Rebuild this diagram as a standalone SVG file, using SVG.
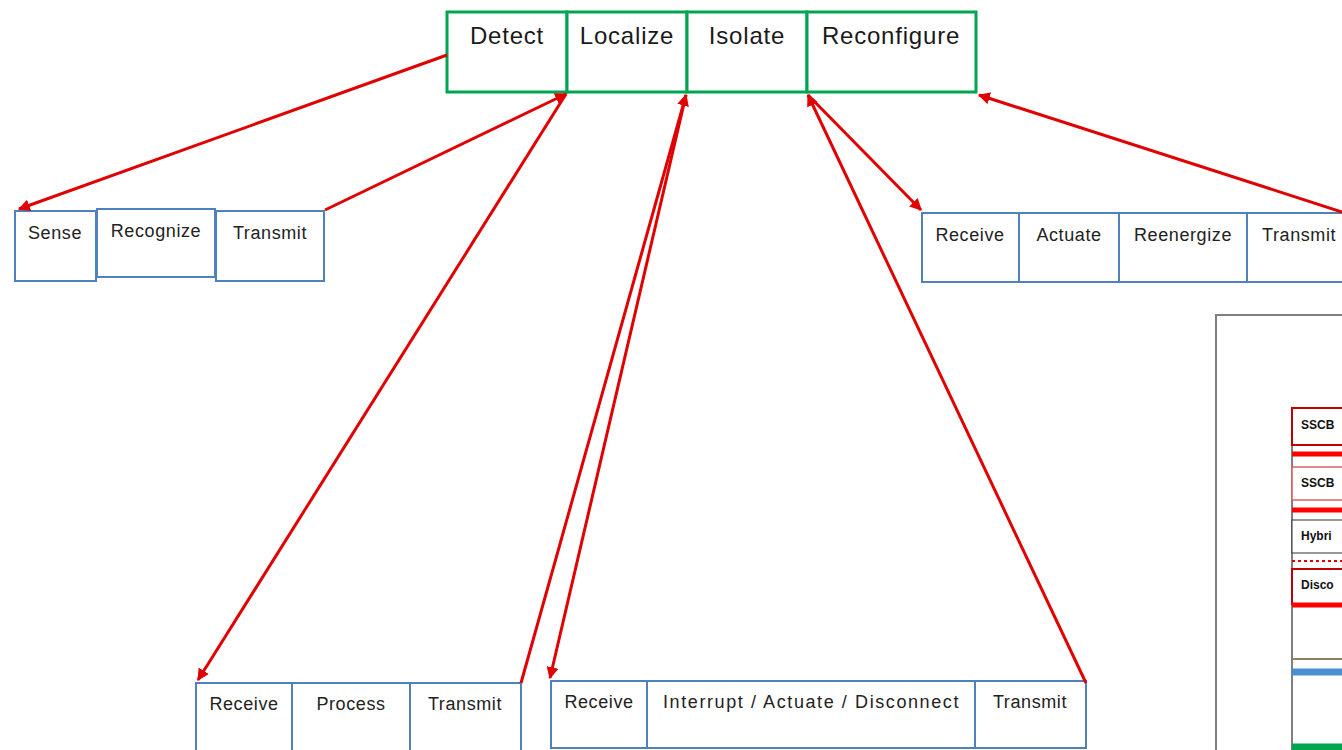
<svg xmlns="http://www.w3.org/2000/svg" width="1342" height="750" viewBox="0 0 1342 750">
<style>
.top{fill:#fff;stroke:#00a550;stroke-width:3}
.cell{fill:#fff;stroke:#4f81bd;stroke-width:2}
.tt{font-family:"Liberation Sans",Arial,sans-serif;font-size:24px;letter-spacing:0.8px;fill:#1a1a1a;text-anchor:middle}
.ct{font-family:"Liberation Sans",Arial,sans-serif;font-size:18px;letter-spacing:0.6px;fill:#222;text-anchor:middle}
.lt{font-family:"Liberation Sans",Arial,sans-serif;font-size:12px;font-weight:bold;fill:#111}
.conn{stroke:#e00000;stroke-width:3;fill:none;marker-end:url(#ah)}
</style>
<defs>
<marker id="ah" viewBox="0 0 10 10" refX="9" refY="5" markerWidth="4" markerHeight="4" orient="auto" markerUnits="strokeWidth">
<path d="M0,0 L10,5 L0,10 z" fill="#e00000"/>
</marker>
</defs>
<rect width="1342" height="750" fill="#fff"/>

<g id="top-row">
<g id="detect"><rect class="top" x="447" y="12" width="120" height="80"/><text class="tt" x="507" y="44">Detect</text></g>
<g id="localize"><rect class="top" x="567" y="12" width="120" height="80"/><text class="tt" x="627" y="44">Localize</text></g>
<g id="isolate"><rect class="top" x="687" y="12" width="120" height="80"/><text class="tt" x="747" y="44">Isolate</text></g>
<g id="reconfigure"><rect class="top" x="807" y="12" width="169" height="80"/><text class="tt" x="891" y="44">Reconfigure</text></g>
</g>

<g id="detect-steps">
<g id="sense"><rect class="cell" x="15" y="211" width="81" height="70"/><text class="ct" x="55" y="239">Sense</text></g>
<g id="recognize"><rect class="cell" x="97" y="209" width="118" height="68"/><text class="ct" x="156" y="237">Recognize</text></g>
<g id="transmit1"><rect class="cell" x="216" y="211" width="108" height="70"/><text class="ct" x="270" y="239">Transmit</text></g>
</g>

<g id="reconfigure-steps">
<g id="receive4"><rect class="cell" x="922" y="213" width="97" height="69"/><text class="ct" x="970" y="241">Receive</text></g>
<g id="actuate"><rect class="cell" x="1019" y="213" width="100" height="69"/><text class="ct" x="1069" y="241">Actuate</text></g>
<g id="reenergize"><rect class="cell" x="1119" y="213" width="128" height="69"/><text class="ct" x="1183" y="241">Reenergize</text></g>
<g id="transmit4"><rect class="cell" x="1247" y="213" width="110" height="69"/><text class="ct" x="1262" y="241" style="text-anchor:start">Transmit</text></g>
</g>

<g id="localize-steps">
<g id="receive2"><rect class="cell" x="196" y="683" width="96" height="70"/><text class="ct" x="244" y="710">Receive</text></g>
<g id="process"><rect class="cell" x="292" y="683" width="118" height="70"/><text class="ct" x="351" y="710">Process</text></g>
<g id="transmit2"><rect class="cell" x="410" y="683" width="111" height="70"/><text class="ct" x="465" y="710">Transmit</text></g>
</g>

<g id="isolate-steps">
<g id="receive3"><rect class="cell" x="551" y="681" width="96" height="67"/><text class="ct" x="599" y="708">Receive</text></g>
<g id="interrupt"><rect class="cell" x="647" y="681" width="328" height="67"/><text class="ct" x="811" y="708" textLength="296" lengthAdjust="spacing">Interrupt / Actuate / Disconnect</text></g>
<g id="transmit3"><rect class="cell" x="975" y="681" width="111" height="67"/><text class="ct" x="1030" y="708">Transmit</text></g>
</g>

<g id="legend">
<rect x="1216" y="315" width="140" height="450" fill="none" stroke="#7f7f7f" stroke-width="2"/>
<line x1="1292" y1="407" x2="1292" y2="750" stroke="#555" stroke-width="1.5"/>
<rect x="1292" y="408" width="60" height="37" fill="#fff" stroke="#c00000" stroke-width="2"/>
<text class="lt" x="1301" y="429">SSCB</text>
<line x1="1292" y1="454" x2="1342" y2="454" stroke="#ff0000" stroke-width="5"/>
<rect x="1292" y="467" width="60" height="33" fill="#fff" stroke="#e06060" stroke-width="1.5"/>
<text class="lt" x="1301" y="487">SSCB</text>
<line x1="1292" y1="510" x2="1342" y2="510" stroke="#ff0000" stroke-width="5"/>
<rect x="1292" y="520" width="60" height="33" fill="#fff" stroke="#333" stroke-width="1"/>
<text class="lt" x="1301" y="540">Hybri</text>
<line x1="1292" y1="561" x2="1342" y2="561" stroke="#e00000" stroke-width="2" stroke-dasharray="3,3"/>
<rect x="1292" y="569" width="60" height="35" fill="#fff" stroke="#c00000" stroke-width="2"/>
<text class="lt" x="1301" y="589">Disco</text>
<line x1="1292" y1="605" x2="1342" y2="605" stroke="#ff0000" stroke-width="5"/>
<line x1="1292" y1="659" x2="1342" y2="659" stroke="#8b7d6b" stroke-width="2"/>
<line x1="1292" y1="672" x2="1342" y2="672" stroke="#4a90d0" stroke-width="7"/>
<line x1="1292" y1="747" x2="1342" y2="747" stroke="#00a550" stroke-width="7"/>
</g>

<g id="connectors">
<line class="conn" x1="447" y1="55" x2="19" y2="209"/>
<line class="conn" x1="325" y1="210" x2="566" y2="94"/>
<line class="conn" x1="566" y1="94" x2="198" y2="680"/>
<line class="conn" x1="521" y1="683" x2="686" y2="95"/>
<line class="conn" x1="686" y1="95" x2="550" y2="678"/>
<line class="conn" x1="1086" y1="683" x2="808" y2="95"/>
<line class="conn" x1="808" y1="95" x2="921" y2="210"/>
<line class="conn" x1="1342" y1="212" x2="979" y2="95"/>
</g>
</svg>
